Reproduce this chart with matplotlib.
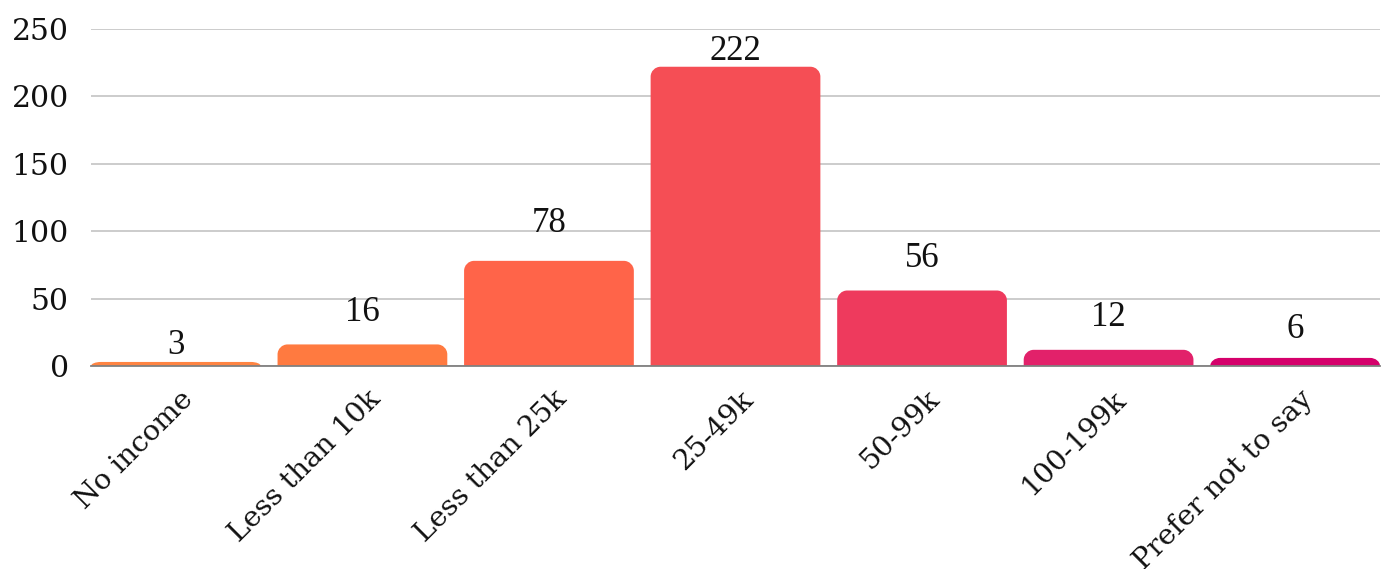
import matplotlib
matplotlib.use("Agg")
import matplotlib.pyplot as plt
from matplotlib.path import Path
from matplotlib.patches import PathPatch
import matplotlib.transforms as mtransforms

categories = ["No income", "Less than 10k", "Less than 25k", "25-49k", "50-99k", "100-199k", "Prefer not to say"]
values = [3, 16, 78, 222, 56, 12, 6]
colors = ["#FF8442", "#FF7A40", "#FF6449", "#F54E55", "#EE3A5D", "#E2216A", "#D5006B"]
yticks = [0, 50, 100, 150, 200, 250]
# gap (pixels) between bar top and its value label, as laid out in the reference
label_gaps_px = [8, 23, 29, 7, 24, 24, 20]

plt.rcParams['font.family'] = ['DejaVu Serif']

W, H, DPI = 1385, 569, 100
fig = plt.figure(figsize=(W / DPI, H / DPI), dpi=DPI)
ax = fig.add_axes([91 / W, 1 - 366 / H, (1380 - 91) / W, (366 - 29) / H])

bw = 0.91
ax.set_xlim(-bw / 2, len(values) - 1 + bw / 2)
ax.set_ylim(0, 250)

bars = ax.bar(range(len(values)), values, width=bw, color="none", zorder=3)

# pixel scales
px_x = (1380 - 91) / (len(values) - 1 + bw)
px_y = (366 - 29) / 250.0
r_px = 10

def rounded_top(x0, w, h):
    rx = r_px / px_x
    ry = min(r_px / px_y, h)
    rx = min(rx, w / 2)
    k = 0.5523
    x1 = x0 + w
    verts = [
        (x0, 0), (x0, h - ry),
        (x0, h - ry + k * ry), (x0 + rx - k * rx, h), (x0 + rx, h),
        (x1 - rx, h),
        (x1 - rx + k * rx, h), (x1, h - ry + k * ry), (x1, h - ry),
        (x1, 0), (x0, 0),
    ]
    codes = [Path.MOVETO, Path.LINETO,
             Path.CURVE4, Path.CURVE4, Path.CURVE4,
             Path.LINETO,
             Path.CURVE4, Path.CURVE4, Path.CURVE4,
             Path.LINETO, Path.CLOSEPOLY]
    return Path(verts, codes)

FS = 20.5
for b, c, v, g in zip(bars, colors, values, label_gaps_px):
    p = rounded_top(b.get_x(), b.get_width(), b.get_height())
    ax.add_patch(PathPatch(p, facecolor=c, edgecolor="none", zorder=3))
    ax.annotate(str(v), (b.get_x() + b.get_width() / 2, v), xytext=(0, g * 0.72),
                textcoords="offset points", ha="center", va="baseline",
                fontsize=25, family=["Liberation Serif"], color="#111111", zorder=4)

ax.set_yticks(yticks)
ax.set_yticklabels([str(t) for t in yticks], fontsize=21.5, color="#111111")
ax.set_xticks(range(len(values)))
ax.set_xticklabels(categories, rotation=45, ha="right", rotation_mode="anchor",
                   fontsize=FS, color="#111111")
ax.tick_params(axis="both", length=0)
ax.tick_params(axis="y", pad=16)
ax.tick_params(axis="x", pad=14)

offset = mtransforms.ScaledTranslation(3 / 72, 0, fig.dpi_scale_trans)
for lab in ax.get_xticklabels():
    lab.set_transform(lab.get_transform() + offset)

ax.grid(axis="y", color="#C8C8C8", linewidth=1.3, zorder=0)
ax.set_axisbelow(True)
for s in ["top", "right", "left"]:
    ax.spines[s].set_visible(False)
ax.spines["bottom"].set_color("#808080")
ax.spines["bottom"].set_linewidth(1.3)
ax.spines["bottom"].set_zorder(5)

fig.savefig("out.png", dpi=DPI, facecolor="white")
